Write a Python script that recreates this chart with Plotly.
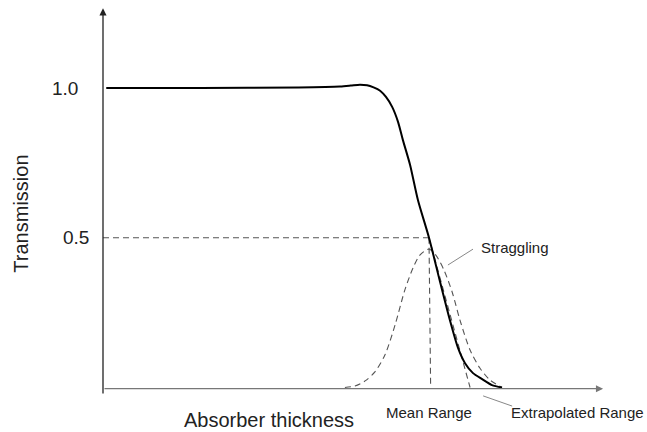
import plotly.graph_objects as go

# ---- data (absorber thickness in arbitrary units, transmission 0..1) ----
curve_x = [0.1, 3.0, 6.0, 7.27, 7.6, 7.88, 8.1, 8.30, 8.50, 8.68, 8.87, 9.05, 9.20, 9.42,
           9.66, 10.0, 10.34, 10.64, 10.89, 11.10, 11.35, 11.63, 11.93, 12.24]
curve_t = [1.0, 1.0, 1.002, 1.005, 1.008, 1.011, 1.009, 1.002, 0.991, 0.970, 0.937, 0.887,
           0.826, 0.743, 0.626, 0.5, 0.352, 0.225, 0.132, 0.082, 0.048, 0.028, 0.008, 0.0]

strag_x = [7.42, 7.73, 8.04, 8.34, 8.65, 8.96, 9.26, 9.51, 9.72, 10.0,
           10.21, 10.46, 10.71, 10.95, 11.26, 11.56, 11.87, 12.24]
strag_t = [0.0, 0.005, 0.022, 0.052, 0.109, 0.209, 0.326, 0.399, 0.442, 0.462,
           0.442, 0.392, 0.319, 0.225, 0.125, 0.065, 0.025, 0.0]

mean_range = 10.0
extrap_range = 11.26
half_t = 0.5
tick_vals = [1.0, 0.5]
tick_text = ["1.0", "0.5"]

FONT = "Liberation Sans, Arial, sans-serif"
TXT = "#222222"
DASH = "6px,4px"

fig = go.Figure()

# straggling distribution (dashed)
fig.add_trace(go.Scatter(x=strag_x, y=strag_t, mode="lines",
                         line=dict(color="#555555", width=1.1, dash=DASH, shape="spline", smoothing=0.8),
                         hoverinfo="skip"))
# horizontal 0.5 guide
fig.add_trace(go.Scatter(x=[0, mean_range], y=[half_t, half_t], mode="lines",
                         line=dict(color="#555555", width=1.1, dash=DASH), hoverinfo="skip"))
# vertical mean range guide
fig.add_trace(go.Scatter(x=[mean_range, mean_range + 0.05], y=[half_t, 0], mode="lines",
                         line=dict(color="#555555", width=1.1, dash=DASH), hoverinfo="skip"))
# extrapolation tangent
fig.add_trace(go.Scatter(x=[mean_range, extrap_range], y=[half_t, 0], mode="lines",
                         line=dict(color="#555555", width=1.1, dash=DASH), hoverinfo="skip"))
# transmission curve
fig.add_trace(go.Scatter(x=curve_x, y=curve_t, mode="lines",
                         line=dict(color="#000000", width=2, shape="spline", smoothing=0.7),
                         hoverinfo="skip"))
# pointer lines
fig.add_trace(go.Scatter(x=[10.58, 11.35], y=[0.409, 0.462], mode="lines",
                         line=dict(color="#888888", width=1), hoverinfo="skip"))
fig.add_trace(go.Scatter(x=[11.66, 12.55], y=[-0.028, -0.062], mode="lines",
                         line=dict(color="#888888", width=1), hoverinfo="skip"))

ann = []
# axes with arrows
ann.append(dict(x=0, y=1.266, ax=0, ay=-0.025, xref="x", yref="y", axref="x", ayref="y",
                text="", showarrow=True, arrowhead=2, arrowsize=1.1, arrowwidth=1.3,
                arrowcolor="#222222"))
ann.append(dict(x=15.34, y=-0.004, ax=0, ay=-0.004, xref="x", yref="y", axref="x", ayref="y",
                text="", showarrow=True, arrowhead=2, arrowsize=1.1, arrowwidth=1.3,
                arrowcolor="#777777"))

# tick labels
ann.append(dict(x=-0.70, y=tick_vals[0], xref="x", yref="y", text=tick_text[0], showarrow=False,
                xanchor="right", yanchor="middle", font=dict(family=FONT, size=19, color=TXT)))
ann.append(dict(x=-0.36, y=tick_vals[1], xref="x", yref="y", text=tick_text[1], showarrow=False,
                xanchor="right", yanchor="middle", font=dict(family=FONT, size=19, color=TXT)))

# axis titles
ann.append(dict(x=5.1, y=-0.108, xref="x", yref="y", text="Absorber thickness", showarrow=False,
                xanchor="center", yanchor="middle", font=dict(family=FONT, size=20, color=TXT)))
ann.append(dict(x=-2.52, y=0.58, xref="x", yref="y", text="Transmission", showarrow=False,
                textangle=-90, xanchor="center", yanchor="middle",
                font=dict(family=FONT, size=20, color=TXT)))

# labels
ann.append(dict(x=mean_range, y=-0.082, xref="x", yref="y", text="Mean Range", showarrow=False,
                xanchor="center", yanchor="middle", font=dict(family=FONT, size=15, color=TXT)))
ann.append(dict(x=12.45, y=-0.082, xref="x", yref="y", text="Extrapolated Range", showarrow=False,
                xanchor="left", yanchor="middle", font=dict(family=FONT, size=15, color=TXT)))
ann.append(dict(x=11.52, y=0.467, xref="x", yref="y", text="Straggling", showarrow=False,
                xanchor="left", yanchor="middle", font=dict(family=FONT, size=15, color=TXT)))

fig.update_layout(
    width=647, height=432,
    margin=dict(l=0, r=0, t=0, b=0),
    paper_bgcolor="white", plot_bgcolor="white",
    showlegend=False,
    xaxis=dict(range=[-3.1595, 16.687], visible=False, fixedrange=True),
    yaxis=dict(range=[-0.14858, 1.29382], visible=False, fixedrange=True),
    annotations=ann,
)

fig.write_html("out.html", config={"displayModeBar": False})
